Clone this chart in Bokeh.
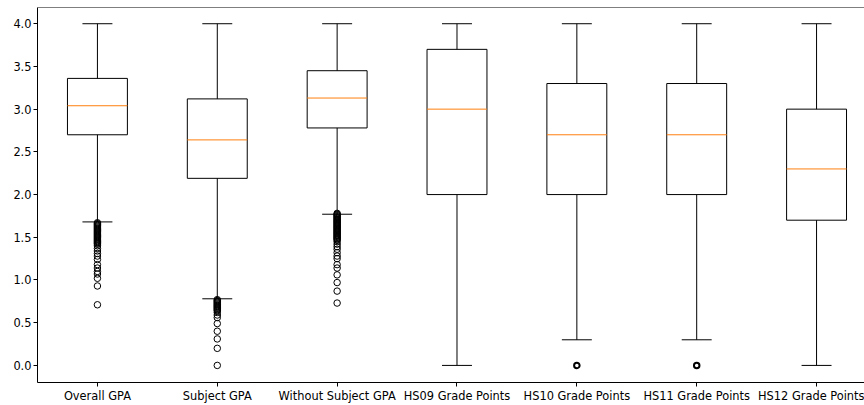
from bokeh.plotting import figure
from bokeh.models import Range1d, FixedTicker, NumeralTickFormatter, Span
from bokeh.embed import file_html
from bokeh.resources import INLINE
import numpy as np

categories = ["Overall GPA", "Subject GPA", "Without Subject GPA", "HS09 Grade Points",
              "HS10 Grade Points", "HS11 Grade Points", "HS12 Grade Points"]
q1 = [2.70, 2.19, 2.78, 2.0, 2.0, 2.0, 1.7]
medians = [3.04, 2.64, 3.13, 3.0, 2.7, 2.7, 2.3]
q3 = [3.36, 3.12, 3.45, 3.7, 3.3, 3.3, 3.0]
whisker_low = [1.68, 0.78, 1.77, 0.0, 0.3, 0.3, 0.0]
whisker_high = [4.0, 4.0, 4.0, 4.0, 4.0, 4.0, 4.0]

overall_outliers = [1.67, 1.66, 1.65, 1.64, 1.63, 1.62, 1.61, 1.60, 1.59, 1.58, 1.57, 1.56,
                    1.55, 1.54, 1.53, 1.52, 1.51, 1.50, 1.49, 1.48, 1.47, 1.46, 1.45, 1.44,
                    1.43, 1.42, 1.40, 1.37, 1.34, 1.31, 1.28, 1.24, 1.18, 1.14, 1.10, 1.07,
                    1.02, 0.93, 0.71]
subject_outliers = [0.77, 0.76, 0.75, 0.74, 0.73, 0.72, 0.71, 0.70, 0.69, 0.68, 0.67, 0.66,
                    0.65, 0.64, 0.62, 0.59, 0.56, 0.49, 0.40, 0.31, 0.20, 0.0]
without_outliers = [1.78, 1.77, 1.76, 1.75, 1.74, 1.73, 1.72, 1.71, 1.70, 1.69, 1.68, 1.67,
                    1.66, 1.65, 1.64, 1.63, 1.62, 1.61, 1.60, 1.59, 1.58, 1.57, 1.56, 1.55,
                    1.54, 1.53, 1.52, 1.51, 1.50, 1.49, 1.48, 1.47, 1.45, 1.42, 1.39, 1.36,
                    1.32, 1.28, 1.25, 1.18, 1.14, 1.06, 0.97, 0.87, 0.73]
hs10_outliers = [0.0]
hs11_outliers = [0.0]
outliers = [overall_outliers, subject_outliers, without_outliers, [], [], [], []]
stacked_outliers = [[], [], [], [], hs10_outliers, hs11_outliers, []]

y_ticks = [0.0, 0.5, 1.0, 1.5, 2.0, 2.5, 3.0, 3.5, 4.0]

positions = np.arange(1, len(categories) + 1)
box_half = 0.25
cap_half = 0.125
y_start, y_end = -0.2, 4.19

FONT = "DejaVu Sans"
FS = "11.4px"

p = figure(width=864, height=405, x_range=Range1d(0.5, 7.40), y_range=Range1d(y_start, y_end),
           output_backend="svg", toolbar_location=None,
           min_border_left=37, min_border_right=0, min_border_top=7, min_border_bottom=0)
p.background_fill_color = "white"
p.border_fill_color = "white"
p.xgrid.grid_line_color = None
p.ygrid.grid_line_color = None
p.outline_line_color = None

# top spine (no right spine visible in the reference)
p.add_layout(Span(location=y_end, dimension="width", line_color="black", line_width=1))

p.xaxis.ticker = FixedTicker(ticks=list(positions))
p.xaxis.major_label_overrides = {int(i): c for i, c in zip(positions, categories)}
p.yaxis.ticker = FixedTicker(ticks=y_ticks)
p.yaxis.formatter = NumeralTickFormatter(format="0.0")
for ax in (p.xaxis, p.yaxis):
    ax.major_tick_out = 4
    ax.major_tick_in = 0
    ax.minor_tick_line_color = None
    ax.major_tick_line_color = "black"
    ax.axis_line_color = "black"
    ax.axis_line_width = 1
    ax.major_label_text_font = FONT
    ax.major_label_text_font_size = FS
    ax.major_label_text_color = "black"
    ax.major_label_standoff = 2

# boxes
p.quad(left=positions - box_half, right=positions + box_half, bottom=q1, top=q3,
       fill_color=None, line_color="black", line_width=1)
# whiskers
p.segment(x0=positions, y0=q3, x1=positions, y1=whisker_high, line_color="black", line_width=1)
p.segment(x0=positions, y0=q1, x1=positions, y1=whisker_low, line_color="black", line_width=1)
# caps
p.segment(x0=positions - cap_half, y0=whisker_high, x1=positions + cap_half, y1=whisker_high,
          line_color="black", line_width=1)
p.segment(x0=positions - cap_half, y0=whisker_low, x1=positions + cap_half, y1=whisker_low,
          line_color="black", line_width=1)
# medians
p.segment(x0=positions - box_half, y0=medians, x1=positions + box_half, y1=medians,
          line_color="#ff7f0e", line_width=1)

# outliers
ox, oy = [], []
for pos, vals in zip(positions, outliers):
    for v in vals:
        ox.append(pos)
        oy.append(v)
p.scatter(x=ox, y=oy, marker="circle", size=6.5, fill_color=None, line_color="black", line_width=1)

# many overlapping outliers at the same value (drawn bolder)
sx, sy = [], []
for pos, vals in zip(positions, stacked_outliers):
    for v in vals:
        sx.append(pos)
        sy.append(v)
p.scatter(x=sx, y=sy, marker="circle", size=5.5, fill_color=None, line_color="black", line_width=2)

open("out.html", "w").write(file_html(p, INLINE))
